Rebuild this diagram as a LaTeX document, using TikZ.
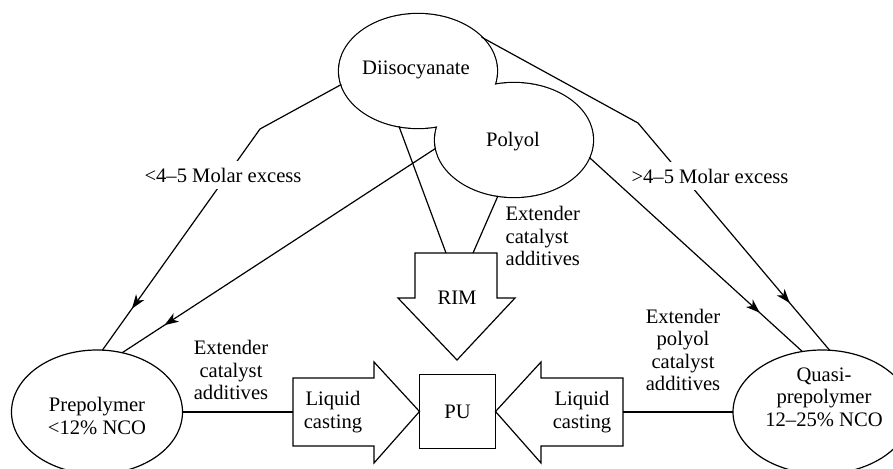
\documentclass[tikz,border=0pt]{standalone}
\usepackage{fontspec}
\setmainfont{Liberation Serif}
\usetikzlibrary{arrows.meta,decorations.markings,shapes.geometric}

\begin{document}
\begin{tikzpicture}[x=1pt,y=-1pt,line width=1.2pt,
  font=\fontsize{20.6}{22.6}\selectfont,
  blob/.style={ellipse,inner sep=0pt,outer sep=0pt},
  lbl/.style={align=center,inner sep=0pt},
  gaplbl/.style={fill=white,inner xsep=3pt,inner ysep=6.5pt},
  arrowat/.style={postaction={decorate,decoration={markings,
      mark=at position #1 with {\arrow{Stealth[length=14pt,width=10pt,inset=4pt]}}}}}]
\clip (0,0) rectangle (893,468);
% raw materials
\node[blob,draw,line width=2.4pt,minimum width=158pt,minimum height=114pt] (dii) at (418,71) {};
\node[blob,draw,line width=2.4pt,minimum width=158pt,minimum height=114pt] (pol) at (514,140) {};
\node[blob,fill=white,minimum width=158pt,minimum height=114pt] at (dii) {};
\node[blob,fill=white,minimum width=158pt,minimum height=114pt] at (pol) {};
\node[lbl] at (416,70) {Diisocyanate};
\node[lbl] at (513,142) {Polyol};
% prepolymers
\node[blob,draw,minimum width=171pt,minimum height=124pt] (pre) at (97,412) {};
\node[lbl] at (97,416) {Prepolymer\\<12\% NCO};
\node[blob,draw,minimum width=178pt,minimum height=124pt] (quasi) at (822,412) {};
\node[lbl] at (824,397) {Quasi-\\prepolymer\\12–25\% NCO};
% product
\node[draw,minimum width=76pt,minimum height=74pt,inner sep=0pt,outer sep=0pt] (pu) at (457.5,411.5) {PU};
\draw (415,253) -- (497,253) -- (497,298) -- (515,298) -- (457,360) -- (398,298) -- (415,298) -- cycle;
\node[lbl] (rim) at (457,298) {RIM};
\draw (293,378) -- (374,378) -- (374,362) -- (pu.west) -- (374,463) -- (374,446) -- (293,446) -- cycle;
\node[lbl] (castL) at (333,412) {Liquid\\casting};
\draw (623,378) -- (541,378) -- (541,362) -- (pu.east) -- (541,463) -- (541,446) -- (623,446) -- cycle;
\node[lbl] (castR) at (582,412) {Liquid\\casting};
\coordinate (rimL) at (446,253);
\coordinate (rimR) at (473,253);
\coordinate (tailL) at (293,412);
\coordinate (tailR) at (623,412);
\coordinate (bendL) at (260,129);
\coordinate (bendR) at (638,123);
% connectors
\draw[arrowat=0.86] (dii.190) -- (bendL) -- (pre.85);
\draw[arrowat=0.87] (dii.28) -- (bendR) -- (quasi.83);
\draw[arrowat=0.865] (pol.186) -- (pre.67);
\draw[arrowat=0.80] (pol.-13) -- (quasi.108);
\draw (dii.251) -- (rimL);
\draw (pol.254) -- (rimR);
\draw (pre.east) -- (tailL);
\draw (quasi.west) -- (tailR);
% labels
\node[lbl,gaplbl] (molL) at (223,175) {<4–5 Molar excess};
\node[lbl,gaplbl] (molR) at (710,176) {>4–5 Molar excess};
\node[lbl,align=left,anchor=west] (addRim) at (505,236) {Extender\\catalyst\\additives};
\node[lbl] (addL) at (231,370) {Extender\\catalyst\\additives};
\node[lbl] (addR) at (683,350) {Extender\\polyol\\catalyst\\additives};
\end{tikzpicture}
\end{document}
